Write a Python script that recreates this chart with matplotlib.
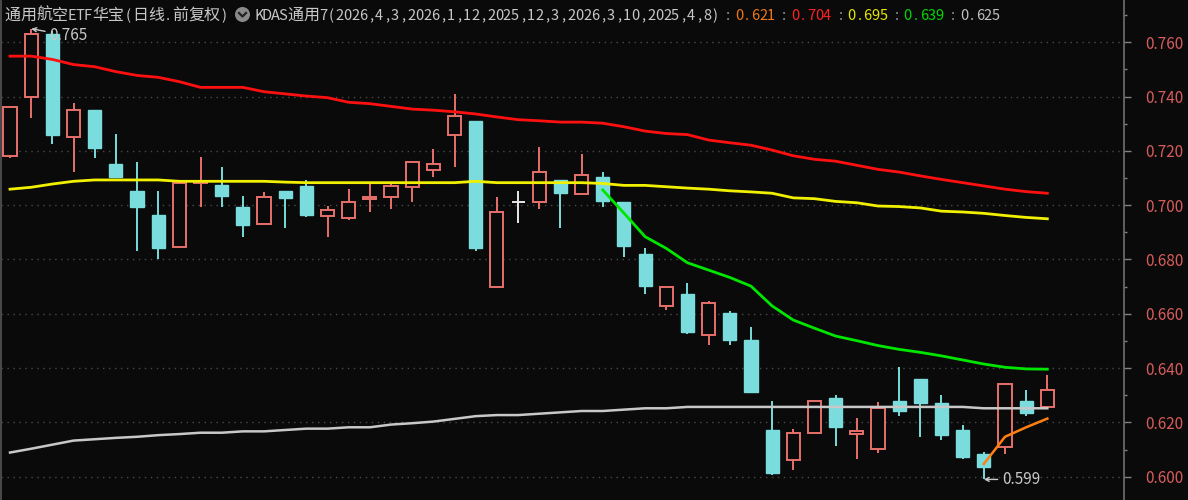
import matplotlib
matplotlib.use('Agg')
import matplotlib.pyplot as plt
from matplotlib.patches import Rectangle, Circle
from matplotlib.lines import Line2D
from matplotlib.ticker import MultipleLocator, FormatStrFormatter, FixedLocator
import numpy as np

# ---------------- data ----------------
opens = [0.718, 0.740, 0.763, 0.725, 0.735, 0.7152, 0.7052, 0.6964, 0.6847, 0.7083,
         0.7074, 0.6992, 0.6931, 0.7052, 0.7071, 0.696, 0.6952, 0.7022, 0.7029, 0.7068,
         0.713, 0.7257, 0.731, 0.6698, 0.7012, 0.7011, 0.7093, 0.704, 0.7103, 0.7013,
         0.682, 0.6629, 0.6672, 0.6522, 0.6602, 0.6504, 0.6172, 0.6062, 0.616, 0.6289,
         0.6158, 0.6101, 0.628, 0.6359, 0.627, 0.6172, 0.6083, 0.6108, 0.628, 0.6258]
highs = [0.736, 0.765, 0.764, 0.7375, 0.735, 0.7261, 0.716, 0.7052, 0.7083, 0.7179,
         0.7142, 0.7034, 0.7048, 0.7052, 0.7093, 0.6997, 0.7059, 0.7078, 0.7078, 0.716,
         0.7206, 0.741, 0.731, 0.7029, 0.7052, 0.7216, 0.7093, 0.7187, 0.7121, 0.7013,
         0.6841, 0.670, 0.6712, 0.6646, 0.6611, 0.6553, 0.628, 0.6176, 0.628, 0.6301,
         0.6215, 0.6274, 0.6403, 0.6359, 0.6301, 0.619, 0.6092, 0.634, 0.6318, 0.6375]
lows = [0.7175, 0.7322, 0.7224, 0.7123, 0.7173, 0.7103, 0.6831, 0.6801, 0.6841, 0.6995,
        0.6995, 0.6882, 0.6931, 0.6915, 0.6955, 0.6882, 0.6946, 0.6975, 0.6985, 0.7013,
        0.7103, 0.7142, 0.6832, 0.6698, 0.6936, 0.6985, 0.6915, 0.704, 0.6995, 0.681,
        0.6673, 0.6614, 0.6526, 0.6485, 0.6485, 0.6311, 0.6006, 0.6025, 0.616, 0.6113,
        0.6064, 0.6086, 0.6224, 0.6148, 0.6135, 0.6064, 0.599, 0.6084, 0.6223, 0.6258]
closes = [0.736, 0.763, 0.726, 0.735, 0.7212, 0.7105, 0.6995, 0.6841, 0.7083, 0.7087,
          0.7035, 0.6927, 0.7031, 0.7025, 0.6964, 0.6982, 0.7012, 0.7031, 0.7071, 0.716,
          0.7151, 0.733, 0.6841, 0.6974, 0.7012, 0.7121, 0.7044, 0.7111, 0.7016, 0.6851,
          0.6702, 0.670, 0.6534, 0.6641, 0.6504, 0.6311, 0.6015, 0.616, 0.628, 0.6182,
          0.6167, 0.6252, 0.6243, 0.6273, 0.6154, 0.6074, 0.6035, 0.634, 0.6234, 0.6318]

ma_red = [0.7549, 0.7549, 0.7537, 0.7518, 0.751, 0.7492, 0.7478, 0.7471, 0.7455, 0.7434,
          0.7434, 0.7434, 0.7418, 0.741, 0.7402, 0.7396, 0.7379, 0.7374, 0.7364, 0.7354,
          0.735, 0.7344, 0.7336, 0.7325, 0.7315, 0.7311, 0.7306, 0.7306, 0.7302, 0.7289,
          0.7273, 0.7264, 0.726, 0.724, 0.723, 0.7221, 0.7203, 0.7182, 0.7169, 0.7162,
          0.7147, 0.7132, 0.7122, 0.7108, 0.7095, 0.7083, 0.7071, 0.7059, 0.705, 0.7044]
ma_yellow = [0.7059, 0.7066, 0.7078, 0.7088, 0.7093, 0.7093, 0.7093, 0.7093, 0.7088, 0.7088,
             0.7088, 0.7088, 0.7088, 0.7085, 0.7083, 0.7083, 0.7083, 0.7083, 0.7083, 0.7083,
             0.7083, 0.7083, 0.7088, 0.7083, 0.7083, 0.7083, 0.7083, 0.7083, 0.7080, 0.7073,
             0.7073, 0.7068, 0.7063, 0.7059, 0.7053, 0.7049, 0.7044, 0.7027, 0.7024, 0.7014,
             0.7009, 0.6997, 0.6995, 0.699, 0.6978, 0.6975, 0.697, 0.6962, 0.6955, 0.695]
ma_gray = [0.6089, 0.6103, 0.6118, 0.6133, 0.6138, 0.6143, 0.6147, 0.6153, 0.6157, 0.6162,
           0.6162, 0.6167, 0.6167, 0.6172, 0.6177, 0.6177, 0.6182, 0.6182, 0.6192, 0.6197,
           0.6203, 0.6213, 0.6223, 0.6227, 0.6227, 0.6232, 0.6237, 0.6242, 0.6242, 0.6247,
           0.6252, 0.6252, 0.6257, 0.6257, 0.6257, 0.6257, 0.6257, 0.6257, 0.6257, 0.6257,
           0.6257, 0.6257, 0.6257, 0.6257, 0.6257, 0.6257, 0.6252, 0.6252, 0.6252, 0.6252]
green_start = 28
ma_green = [0.7056, 0.6971, 0.6884, 0.6841, 0.6788, 0.6761, 0.6734, 0.6702, 0.6629, 0.6577,
            0.6547, 0.6518, 0.6501, 0.6483, 0.6469, 0.6458, 0.6445, 0.643, 0.6415, 0.6403,
            0.6397, 0.6396]
orange_start = 46
ma_orange = [0.6047, 0.6147, 0.6182, 0.6214]

title_name = '通用航空ETF华宝(日线.前复权)'
indicator_name = 'KDAS通用7(2026,4,3,2026,1,12,2025,12,3,2026,3,10,2025,4,8)'
indicator_values = ['0.621', '0.704', '0.695', '0.639', '0.625']
high_label = '0.765'
low_label = '0.599'
y_ticks = [0.600, 0.620, 0.640, 0.660, 0.680, 0.700, 0.720, 0.740, 0.760]

# ---------------- style ----------------
BG = '#0a0a0a'
UP = '#e8706c'
DOWN = '#7adcdc'
DOJI = '#e8e8e8'
TXT = '#c8c8c8'
C_RED = '#ff1010'
C_YEL = '#f0f000'
C_GRN = '#00e600'
C_GRY = '#c8c8c8'
C_ORG = '#ff8010'
VAL_COLORS = ['#f07818', '#ff2020', '#e8e800', '#00d800', '#c0c0c0']

FONT = ['Noto Sans CJK SC', 'DejaVu Sans']
FS = 11.0
plt.rcParams['font.family'] = FONT

W, H = 1188, 500
fig = plt.figure(figsize=(W / 100, H / 100), dpi=100, facecolor=BG)
ax = fig.add_axes([1 / W, 0, 1123 / W, 1])
ax.set_facecolor(BG)

n = len(opens)
x = np.arange(n)
px_per_idx = 21.17
ax.set_xlim(-9 / px_per_idx, (1124 - 10) / px_per_idx)
y_top = 0.760 + 42.3 * 0.020 / 54.3
y_bot = 0.760 - (H - 42.3) * 0.020 / 54.3
ax.set_ylim(y_bot, y_top)

# grid
for t in y_ticks:
    ax.axhline(t, color='#4a4a4a', lw=1.0, ls=(0, (1, 3.3)), zorder=0)

# candles
bw = 0.62
for i in range(n):
    o, h, l, c = opens[i], highs[i], lows[i], closes[i]
    if c > o:
        col = UP
    elif c < o:
        col = DOWN
    else:
        col = DOJI
    ax.vlines(i, l, h, color=col, lw=1.4, zorder=2)
    lo_b, hi_b = min(o, c), max(o, c)
    if c == o:
        ax.hlines(o, i - bw / 2, i + bw / 2, color=col, lw=1.4, zorder=3)
    elif c > o:
        ax.add_patch(Rectangle((i - bw / 2, lo_b), bw, hi_b - lo_b, facecolor=BG,
                               edgecolor=col, lw=1.4, zorder=3))
    else:
        ax.add_patch(Rectangle((i - bw / 2, lo_b), bw, hi_b - lo_b, facecolor=col,
                               edgecolor=col, lw=1.0, zorder=3))

# indicator lines
ax.plot(x, ma_red, color=C_RED, lw=2.0, zorder=4)
ax.plot(x, ma_yellow, color=C_YEL, lw=2.0, zorder=4)
ax.plot(x, ma_gray, color=C_GRY, lw=1.8, zorder=4)
ax.plot(np.arange(green_start, green_start + len(ma_green)), ma_green, color=C_GRN, lw=2.0, zorder=4)
ax.plot(np.arange(orange_start, orange_start + len(ma_orange)), ma_orange, color=C_ORG, lw=1.8, zorder=4)

# high / low markers
i_hi = int(np.argmax(highs))
i_lo = int(np.argmin(lows))
for idx, val, lab, dy in [(i_hi, highs[i_hi], high_label, -5), (i_lo, lows[i_lo], low_label, 0)]:
    ax.annotate(lab, xy=(idx, val), xytext=(13, dy), textcoords='offset points',
                color=TXT, fontsize=FS, va='center', ha='left', zorder=6,
                arrowprops=dict(arrowstyle='->', color=TXT, lw=1.0, shrinkA=1, shrinkB=0,
                                mutation_scale=7))

# axes / ticks
for s in ['top', 'bottom']:
    ax.spines[s].set_visible(False)
ax.spines['right'].set_color('#707070')
ax.spines['left'].set_color('#555555')
ax.spines['right'].set_linewidth(1.2)
ax.spines['left'].set_linewidth(1.2)
ax.set_xticks([])
ax.yaxis.tick_right()
ax.yaxis.set_major_locator(FixedLocator(y_ticks))
ax.yaxis.set_minor_locator(MultipleLocator(0.010))
ax.yaxis.set_major_formatter(FormatStrFormatter('%.3f'))
ax.tick_params(axis='y', which='major', length=5, width=1, color='#808080',
               labelcolor='#d85c5c', labelsize=FS, pad=10)
ax.tick_params(axis='y', which='minor', length=2.5, width=1, color='#808080')
ax.tick_params(axis='y', which='both', left=False, labelleft=False)

# header: emulate a fixed-cell font (8 px for ASCII, 16 px for CJK)
base_y = 1 - 20.0 / H
def cell_text(x0, s, color):
    xp = x0
    for ch in s:
        wide = ord(ch) > 0x2E80
        w = 16 if wide else 8
        if ch != ' ':
            fig.text((xp + w / 2) / W, base_y, ch, color=color,
                     fontsize=11.5 if wide else 10.5, va='baseline', ha='center', zorder=10)
        xp += w
    return xp

cell_text(4, title_name, TXT)
cx, cy = 242.5 / 100, (H - 14.5) / 100
fig.add_artist(Circle((cx, cy), 0.075, transform=fig.dpi_scale_trans,
                      facecolor='#8a8a8a', edgecolor='none', zorder=10))
fig.add_artist(Line2D([cx - 0.035, cx, cx + 0.035], [cy + 0.015, cy - 0.02, cy + 0.015],
                      transform=fig.dpi_scale_trans, color='#222222', lw=1.6, zorder=11))
cell_text(255, indicator_name, TXT)
colon_x = [724, 780, 836.5, 892.5, 949]
val_x = [735, 791, 847.5, 903.7, 960]
for cxp, vxp, v, vc in zip(colon_x, val_x, indicator_values, VAL_COLORS):
    cell_text(cxp, ':', '#a0a0a0')
    cell_text(vxp, v, vc)

fig.savefig('out.png', dpi=100, facecolor=BG)
